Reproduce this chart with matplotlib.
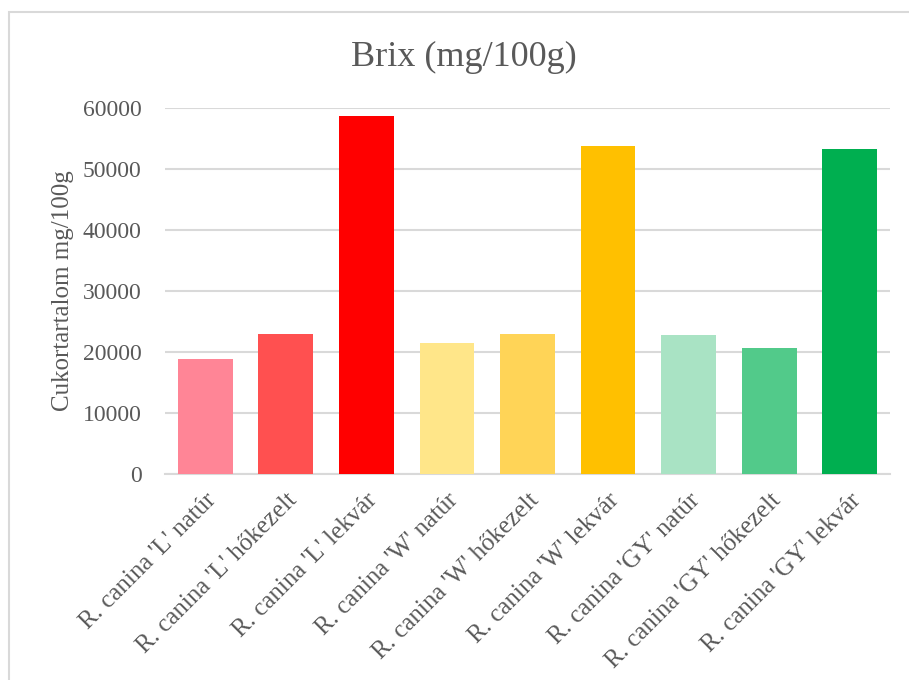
import matplotlib.pyplot as plt
from matplotlib.patches import Rectangle

# data
categories = ["R. canina 'L' natúr", "R. canina 'L' hőkezelt", "R. canina 'L' lekvár",
              "R. canina 'W' natúr", "R. canina 'W' hőkezelt", "R. canina 'W' lekvár",
              "R. canina 'GY' natúr", "R. canina 'GY' hőkezelt", "R. canina 'GY' lekvár"]
values = [18900, 23000, 58700, 21500, 23000, 53800, 22800, 20600, 53300]
colors = ['#FF8596', '#FF5050', '#FF0000', '#FFE689', '#FFD457', '#FFC000',
          '#A9E3C4', '#52CA8A', '#00AF50']
yticks = [0, 10000, 20000, 30000, 40000, 50000, 60000]

plt.rcParams['font.family'] = ['Liberation Serif', 'DejaVu Serif']

fig = plt.figure(figsize=(9.09, 6.8), dpi=100)
ax = fig.add_axes([165 / 909, 1 - 474 / 680, 725 / 909, 366 / 680])

# chart frame
fig.patches.append(Rectangle((9 / 909, -0.1), 1.2, 1 - 12 / 680 + 0.1,
                             transform=fig.transFigure, fill=False,
                             edgecolor='#D9D9D9', linewidth=1.5))

x = range(len(categories))
ax.bar(x, values, width=0.68, color=colors, zorder=3)

ax.set_xlim(-0.5, len(categories) - 0.5)
ax.set_ylim(0, 60000)
ax.set_yticks(yticks)
ax.set_yticklabels([str(t) for t in yticks], fontsize=17, color='#595959')
ax.yaxis.grid(True, color='#D9D9D9', linewidth=1.5, zorder=0)
ax.set_xticks(list(x))
ax.set_xticklabels(categories, rotation=45, ha='right', va='top',
                   rotation_mode='anchor', fontsize=18, color='#595959')
ax.tick_params(axis='y', length=0, pad=17)
ax.tick_params(axis='x', length=0, pad=11)
for s in ['top', 'right', 'left']:
    ax.spines[s].set_visible(False)
ax.spines['bottom'].set_color('#D9D9D9')
ax.spines['bottom'].set_linewidth(1.5)

ax.set_ylabel('Cukortartalom mg/100g', fontsize=18, color='#595959', labelpad=6)
fig.text(464 / 909, 1 - 57 / 680, 'Brix (mg/100g)',
         ha='center', va='center', fontsize=26, color='#595959')

fig.savefig('out.png', dpi=100, facecolor='white')
